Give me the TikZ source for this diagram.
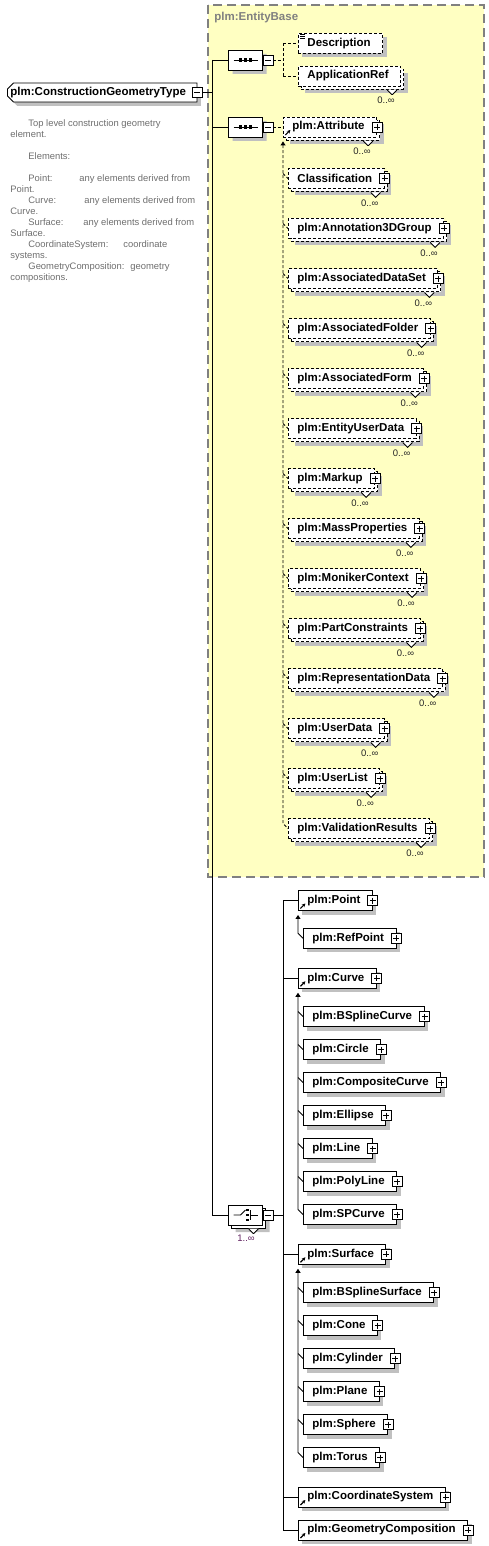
\documentclass[tikz,border=0pt]{standalone}
\usepackage{fontspec}
\setmainfont{Liberation Sans}
\usetikzlibrary{shapes.misc, arrows.meta, positioning, calc, shadows}

\definecolor{basefill}{RGB}{255,255,194}
\definecolor{baseedge}{RGB}{128,128,128}
\definecolor{shade}{RGB}{192,192,192}
\definecolor{docgray}{RGB}{110,110,110}
\definecolor{occpurple}{RGB}{96,32,96}

\begin{document}
\begin{tikzpicture}[x=1pt, y=-1pt, line width=0.9pt,
  elembox/.style={draw, fill=white, anchor=west, minimum height=20pt, inner xsep=0pt, inner ysep=0pt,
    font=\bfseries\fontsize{11.5}{13}\selectfont,
    execute at begin node={\hspace*{9pt}}, execute at end node={\hspace*{12pt}}},
  single/.style={elembox, drop shadow={shadow xshift=4pt, shadow yshift=-4pt, fill=shade, opacity=1}},
  optional/.style={dash pattern=on 3pt off 2pt},
  multi/.style={elembox, optional,
    drop shadow={shadow xshift=7pt, shadow yshift=-7pt, fill=shade, opacity=1},
    general shadow={shadow xshift=3pt, shadow yshift=-3pt, draw, fill=white, dash pattern=on 3pt off 2pt},
    label={[notchmark]south east:}, label={[occurs]south east:0..∞}},
  expand/.style={label={[plusbox]east:}},
  ref/.style={path picture={\draw[solid, black, line width=1.1pt, -{Stealth[length=3.5pt, width=3.5pt]}]
    ([shift={(2pt,2pt)}]path picture bounding box.south west) -- ++(5pt,5pt);}},
  plusbox/.style={anchor=center, draw, solid, fill=white, minimum size=10pt, inner sep=0pt,
    path picture={\draw[solid] ([xshift=2pt]path picture bounding box.west) -- ([xshift=-2pt]path picture bounding box.east)
      ([yshift=-2pt]path picture bounding box.north) -- ([yshift=2pt]path picture bounding box.south);}},
  minusbox/.style={anchor=center, draw, solid, fill=white, minimum size=10pt, inner sep=0pt,
    path picture={\draw[solid] ([xshift=2pt]path picture bounding box.west) -- ([xshift=-2pt]path picture bounding box.east);}},
  notchmark/.style={anchor=north, xshift=-9pt, yshift=-3pt, minimum width=10pt, minimum height=5pt, inner sep=0pt,
    path picture={\filldraw[solid, fill=white] (path picture bounding box.north west) -- (path picture bounding box.south)
      -- (path picture bounding box.north east);}},
  occurs/.style={anchor=center, xshift=-15pt, yshift=-14pt, inner sep=0pt, text=black!85, font=\fontsize{9.5}{11}\selectfont},
  choiceocc/.style={anchor=center, inner sep=0pt, text=occpurple, font=\fontsize{9.5}{11}\selectfont},
  compbase/.style={chamfered rectangle, chamfered rectangle xsep=6pt, chamfered rectangle ysep=6pt, draw, fill=white,
    minimum width=34pt, minimum height=20pt, inner sep=0pt},
  compositor/.style={compbase, drop shadow={shadow xshift=4pt, shadow yshift=-4pt, fill=shade, opacity=1}, label={[minusbox, anchor=west]east:}},
  choicebox/.style={compbase, drop shadow={shadow xshift=7pt, shadow yshift=-7pt, fill=shade, opacity=1},
    general shadow={shadow xshift=3pt, shadow yshift=-3pt, draw, fill=white},
    label={[minusbox, anchor=west]east:}, label={[notchmark]south east:}},
  seqsym/.style={path picture={
    \coordinate (cc) at (path picture bounding box.center);
    \draw[solid, black] ([xshift=-12pt]cc) -- ([xshift=12pt]cc);
    \fill[black] ([xshift=-5pt]cc) +(-1.6pt,-1.6pt) rectangle +(1.6pt,1.6pt);
    \fill[black] (cc) +(-1.6pt,-1.6pt) rectangle +(1.6pt,1.6pt);
    \fill[black] ([xshift=5pt]cc) +(-1.6pt,-1.6pt) rectangle +(1.6pt,1.6pt);}},
  choicesym/.style={path picture={
    \coordinate (cc) at (path picture bounding box.center);
    \draw[solid, black] ([xshift=-12pt]cc) -- ([xshift=-5pt]cc) -- ([shift={(0pt,5pt)}]cc);
    \fill[black] ([shift={(2pt,5pt)}]cc) +(-1.3pt,-1.3pt) rectangle +(1.3pt,1.3pt);
    \fill[black] ([shift={(2pt,0pt)}]cc) +(-1.3pt,-1.3pt) rectangle +(1.3pt,1.3pt);
    \fill[black] ([shift={(2pt,-5pt)}]cc) +(-1.3pt,-1.3pt) rectangle +(1.3pt,1.3pt);
    \draw[solid, black] ([shift={(4.5pt,5pt)}]cc) -- ([shift={(4.5pt,-5pt)}]cc) ([xshift=4.5pt]cc) -- ([xshift=12pt]cc);}},
  rootbox/.style={chamfered rectangle, chamfered rectangle corners={north west, south west}, chamfered rectangle xsep=3pt,
    chamfered rectangle ysep=3pt, draw, fill=white, anchor=west, minimum height=19pt, inner xsep=0pt, inner ysep=0pt,
    font=\bfseries\fontsize{11.5}{13}\selectfont, execute at end node={\hspace*{8pt}},
    drop shadow={shadow xshift=4pt, shadow yshift=-4pt, fill=shade, opacity=1}, label={[minusbox]east:}},
  basebox/.style={draw=baseedge, fill=basefill, line width=1.3pt, dash pattern=on 9pt off 5pt},
  basetitle/.style={anchor=west, inner sep=0pt, text=baseedge, font=\bfseries\fontsize{11.5}{13}\selectfont},
  doctext/.style={align=left, inner sep=0pt, text=docgray, font=\fontsize{9.4}{10.95}\selectfont},
  optline/.style={dash pattern=on 3pt off 2pt},
  subtip/.style={{Triangle[length=4pt, width=5pt]}-}
]
\useasboundingbox (0,0) rectangle (489,1546);

% inherited base type
\draw[basebox] (208,5) rectangle (484,877);
\node[basetitle] at (214,18) (basettl) {plm:EntityBase};

% root and its annotation
\node[rootbox] at (7,92.5) (root) {plm:ConstructionGeometryType};
\node[doctext, anchor=north west] at (10,119.5) (doc) {%
\hspace*{18pt}Top level construction geometry\\
element.\\[10.95pt]
\hspace*{18pt}Elements:\\[10.95pt]
\hspace*{18pt}\makebox[51pt][l]{Point:}any elements derived from\\
Point.\\
\hspace*{18pt}\makebox[56pt][l]{Curve:}any elements derived from\\
Curve.\\
\hspace*{18pt}\makebox[55pt][l]{Surface:}any elements derived from\\
Surface.\\
\hspace*{18pt}\makebox[95pt][l]{CoordinateSystem:}coordinate\\
systems.\\
\hspace*{18pt}\makebox[102pt][l]{GeometryComposition:}geometry\\
compositions.};

% compositors
\node[compositor, seqsym] at (245.5,60) (seqa) {};
\node[compositor, seqsym] at (245.5,127) (seqb) {};
\node[choicebox, choicesym] at (245.5,1215) (chc) {};
\node[choiceocc] at (246,1238) (chcocc) {1..∞};

% first sequence
\node[single, optional] at (298,43.5) (desc) {Description};
\node[multi] at (298,76) (appref) {ApplicationRef};

% second sequence
\node[multi, expand, ref] at (283,127) (attr) {plm:Attribute};
\node[multi, expand] at (288,178.5) (clsf) {Classification};
\node[multi, expand] at (288,228.5) (ann3d) {plm:Annotation3DGroup};
\node[multi, expand] at (288,278.5) (adset) {plm:AssociatedDataSet};
\node[multi, expand] at (288,328.5) (afold) {plm:AssociatedFolder};
\node[multi, expand] at (288,378.5) (aform) {plm:AssociatedForm};
\node[multi, expand] at (288,428.5) (eudata) {plm:EntityUserData};
\node[multi, expand] at (288,478.5) (mkup) {plm:Markup};
\node[multi, expand] at (288,528.5) (mprop) {plm:MassProperties};
\node[multi, expand] at (288,578.5) (mctx) {plm:MonikerContext};
\node[multi, expand] at (288,628.5) (pcons) {plm:PartConstraints};
\node[multi, expand] at (288,678.5) (rdata) {plm:RepresentationData};
\node[multi, expand] at (288,728.5) (udata) {plm:UserData};
\node[multi, expand] at (288,778.5) (ulist) {plm:UserList};
\node[multi, expand] at (288,828.5) (vres) {plm:ValidationResults};

% choice
\node[single, expand, ref] at (298,900.5) (pnt) {plm:Point};
\node[single, expand] at (303,938.3) (refpnt) {plm:RefPoint};
\node[single, expand, ref] at (298,978.3) (crv) {plm:Curve};
\node[single, expand] at (303,1016.5) (bspc) {plm:BSplineCurve};
\node[single, expand] at (303,1049.5) (circ) {plm:Circle};
\node[single, expand] at (303,1082.5) (ccrv) {plm:CompositeCurve};
\node[single, expand] at (303,1115.5) (ellp) {plm:Ellipse};
\node[single, expand] at (303,1148.5) (lin) {plm:Line};
\node[single, expand] at (303,1181.5) (pline) {plm:PolyLine};
\node[single, expand] at (303,1214.5) (spc) {plm:SPCurve};
\node[single, expand, ref] at (298,1254.3) (srf) {plm:Surface};
\node[single, expand] at (303,1292.5) (bsps) {plm:BSplineSurface};
\node[single, expand] at (303,1325.5) (cone) {plm:Cone};
\node[single, expand] at (303,1358.5) (cyl) {plm:Cylinder};
\node[single, expand] at (303,1391.5) (plane) {plm:Plane};
\node[single, expand] at (303,1424.5) (sph) {plm:Sphere};
\node[single, expand] at (303,1457.5) (tor) {plm:Torus};
\node[single, expand, ref] at (298,1497) (csys) {plm:CoordinateSystem};
\node[single, expand, ref] at (298,1530) (gcomp) {plm:GeometryComposition};

\coordinate (trunk) at (212,60);
\coordinate (seqafork) at (283,60);
\coordinate (chfork) at (283,1215);

% main trunk
\draw ([xshift=5pt]root.east) -- (root.east -| trunk);
\draw (trunk) -- (trunk |- chc.west);
\draw (trunk) -- (seqa.west);
\draw (trunk |- seqb.west) -- (seqb.west);
\draw (trunk |- chc.west) -- (chc.west);

% sequences
\draw[optline] ([xshift=10pt]seqa.east) -- (seqafork);
\draw[optline] (seqafork |- desc.west) -- (seqafork |- appref.west);
\draw[optline] (seqafork |- desc.west) -- (desc.west);
\draw[optline] (seqafork |- appref.west) -- (appref.west);
\draw[optline] ([xshift=10pt]seqb.east) -- (attr.west);
\draw[line width=0.8pt] ([shift={(2pt,-1.5pt)}]desc.north west) -- ++(5pt,0pt)
  ([shift={(2pt,-3.5pt)}]desc.north west) -- ++(5pt,0pt)
  ([shift={(2pt,-5.5pt)}]desc.north west) -- ++(5pt,0pt);

% substitution group of plm:Attribute
\draw[optline, subtip] ([yshift=-4pt]attr.south west) -- ($(attr.west |- vres.west)+(0,-5)$) -- (vres.west);
\draw[optline] ($(attr.west |- clsf.west)+(0,-5)$) -- (clsf.west)
  ($(attr.west |- ann3d.west)+(0,-5)$) -- (ann3d.west)
  ($(attr.west |- adset.west)+(0,-5)$) -- (adset.west)
  ($(attr.west |- afold.west)+(0,-5)$) -- (afold.west)
  ($(attr.west |- aform.west)+(0,-5)$) -- (aform.west)
  ($(attr.west |- eudata.west)+(0,-5)$) -- (eudata.west)
  ($(attr.west |- mkup.west)+(0,-5)$) -- (mkup.west)
  ($(attr.west |- mprop.west)+(0,-5)$) -- (mprop.west)
  ($(attr.west |- mctx.west)+(0,-5)$) -- (mctx.west)
  ($(attr.west |- pcons.west)+(0,-5)$) -- (pcons.west)
  ($(attr.west |- rdata.west)+(0,-5)$) -- (rdata.west)
  ($(attr.west |- udata.west)+(0,-5)$) -- (udata.west)
  ($(attr.west |- ulist.west)+(0,-5)$) -- (ulist.west);

% choice branches
\draw ([xshift=10pt]chc.east) -- (chfork);
\draw (chfork |- pnt.west) -- (chfork |- gcomp.west);
\draw (chfork |- pnt.west) -- (pnt.west);
\draw (chfork |- crv.west) -- (crv.west);
\draw (chfork |- srf.west) -- (srf.west);
\draw (chfork |- csys.west) -- (csys.west);
\draw (chfork |- gcomp.west) -- (gcomp.west);

% substitution groups in the choice
\draw[subtip] ([yshift=-4pt]pnt.south west) -- ($(pnt.west |- refpnt.west)+(0,-5)$) -- (refpnt.west);
\draw[subtip] ([yshift=-4pt]crv.south west) -- ($(crv.west |- spc.west)+(0,-5)$) -- (spc.west);
\draw ($(crv.west |- bspc.west)+(0,-5)$) -- (bspc.west)
  ($(crv.west |- circ.west)+(0,-5)$) -- (circ.west)
  ($(crv.west |- ccrv.west)+(0,-5)$) -- (ccrv.west)
  ($(crv.west |- ellp.west)+(0,-5)$) -- (ellp.west)
  ($(crv.west |- lin.west)+(0,-5)$) -- (lin.west)
  ($(crv.west |- pline.west)+(0,-5)$) -- (pline.west);
\draw[subtip] ([yshift=-4pt]srf.south west) -- ($(srf.west |- tor.west)+(0,-5)$) -- (tor.west);
\draw ($(srf.west |- bsps.west)+(0,-5)$) -- (bsps.west)
  ($(srf.west |- cone.west)+(0,-5)$) -- (cone.west)
  ($(srf.west |- cyl.west)+(0,-5)$) -- (cyl.west)
  ($(srf.west |- plane.west)+(0,-5)$) -- (plane.west)
  ($(srf.west |- sph.west)+(0,-5)$) -- (sph.west);
\end{tikzpicture}
\end{document}
